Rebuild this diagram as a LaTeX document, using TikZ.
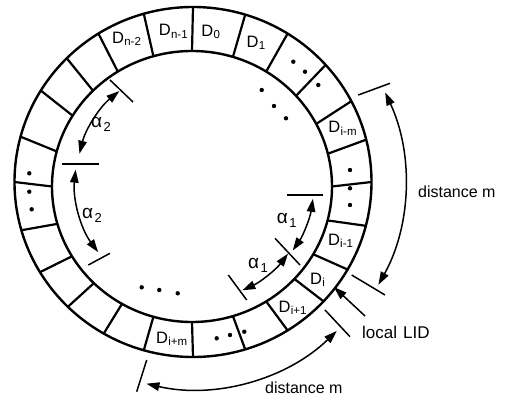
\documentclass[tikz,border=0pt]{standalone}
\usepackage{fontspec}
\setmainfont{Liberation Sans}
\usetikzlibrary{arrows.meta}

\newcommand{\dlab}[1]{D\kern0.3pt\raisebox{-2.2pt}{\fontsize{11.5}{11.5}\selectfont #1}}
\newcommand{\alab}[1]{{\fontsize{19}{19}\selectfont α}\kern1.5pt\raisebox{-4pt}{\fontsize{13}{13}\selectfont #1}}

\begin{document}
\begin{tikzpicture}[
    x=1pt, y=1pt,
    ringline/.style={line width=2.4pt},
    segline/.style={line width=2.2pt},
    tickline/.style={line width=1.5pt},
    dimarc/.style={line width=1.5pt, {Triangle[length=13pt, width=8.5pt]}-{Triangle[length=13pt, width=8.5pt]}},
    lidarrow/.style={line width=1.5pt, -{Triangle[length=13pt, width=8.5pt]}},
    seglabel/.style={font=\fontsize{16.5}{16.5}\selectfont, inner sep=0pt},
    anglabel/.style={inner sep=0pt, anchor=base west},
    textlabel/.style={font=\fontsize{16}{16}\selectfont, inner sep=0pt, anchor=base west}
]
    \useasboundingbox (-193,-214) rectangle (312,182);

    % Ring
    \draw[ringline] (0,0) ellipse [x radius=178.5pt, y radius=175pt];
    \draw[ringline] (-1,-4.5) ellipse [x radius=140pt, y radius=135.5pt];
    \foreach \a in {0,14,27.5,42,58,73,90,106,122,135,148.5,165,180,196,211,225.5,240,254,270,287,302,317,330,345.5}
        \draw[segline] ([shift={(-1,-4.5)}]\a:140 and 135.5) -- (\a:178.5 and 175);

    % Segment labels
    \node[seglabel] (dn2) at (-66.5,143.5) {\dlab{n-2}};
    \node[seglabel] (dn1) at (-19.7,150.7) {\dlab{n-1}};
    \node[seglabel] (d0) at (17.8,150.2) {\dlab{0}};
    \node[seglabel] (d1) at (63,139) {\dlab{1}};
    \node[seglabel] (dim) at (149.5,53.7) {\dlab{i-m}};
    \node[seglabel] (di1) at (147.5,-58.8) {\dlab{i-1}};
    \node[seglabel] (di) at (124.5,-98) {\dlab{i}};
    \node[seglabel] (dip1) at (99.5,-125.5) {\dlab{i+1}};
    \node[seglabel] (dipm) at (-21.3,-157.2) {\dlab{i+m}};

    % Dots
    \foreach \p in {(100.3,120.3),(112,110.3),(125.3,97),
                    (-163.7,8.7),(-163.7,-9.7),(-161.3,-27.3),
                    (157,12),(157,-6.3),(157,-23),
                    (23.7,-156.3),(37,-153),(51.3,-149.7),
                    (68.7,92),(81,76),(93,63.7),
                    (-51.3,-105.3),(-33.7,-108),(-15.3,-111.3)}
        \fill \p circle (2.2pt);

    % Inner ticks and angles
    \draw[tickline] (-83,102) -- (-60,80);
    \draw[tickline] (-131,18) -- (-94,18);
    \draw[tickline] (-104.7,-83) -- (-83,-71.3);
    \draw[tickline] (93.7,-13) -- (130.3,-13);
    \draw[tickline] (82,-56.3) -- (107,-83);
    \draw[tickline] (35.3,-93) -- (53.7,-118);

    \draw[dimarc] (129:117) arc[start angle=129, end angle=166, radius=117pt];
    \draw[dimarc] (174:118) arc[start angle=174, end angle=216.5, radius=118pt];
    \draw[dimarc] (-8:121) arc[start angle=-8, end angle=-34.5, radius=121pt];
    \draw[dimarc] (-37:119) arc[start angle=-37, end angle=-65.5, radius=119pt];

    \node[anglabel] (a2up) at (-102,54) {\alab{2}};
    \node[anglabel] (a2lo) at (-111,-36) {\alab{2}};
    \node[anglabel] (a1up) at (83.7,-41.3) {\alab{1}};
    \node[anglabel] (a1lo) at (55,-86) {\alab{1}};

    % Outer ticks and distances
    \draw[tickline] (165.3,87) -- (197,98.7);
    \draw[tickline] (158.7,-93) -- (192,-113);
    \draw[tickline] (132,-128) -- (157,-154.7);
    \draw[tickline] (-56.3,-209.7) -- (-46.3,-178);

    \draw[dimarc] (25:212) arc[start angle=25, end angle=-29, radius=212pt];
    \draw[dimarc] (-46:207) arc[start angle=-46, end angle=-103, radius=207pt];

    \node[textlabel] (distr) at (225,-15) {distance m};
    \node[textlabel] (distb) at (72,-211.3) {distance m};

    % Local LID
    \node[textlabel, font=\fontsize{17}{17}\selectfont] (lid) at (169,-156) {local\hspace{6pt}LID};
    \coordinate (lidtail) at (172,-134);
    \coordinate (lidtip) at (-36.7:175.8);
    \draw[lidarrow] (lidtail) -- (lidtip);
\end{tikzpicture}
\end{document}
